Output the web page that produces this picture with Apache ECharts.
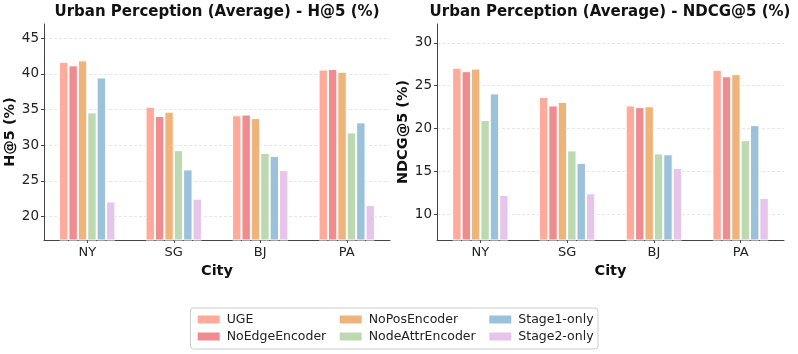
<!DOCTYPE html>
<html>
<head>
<meta charset="utf-8">
<script src="https://cdn.jsdelivr.net/npm/echarts@6/dist/echarts.min.js"></script>
<style>
html,body{margin:0;padding:0;background:#fff;}
#c{width:798px;height:354px;}
</style>
</head>
<body>
<div id="c"></div>
<script>
const cities = ['NY', 'SG', 'BJ', 'PA'];
const methods = ['UGE', 'NoEdgeEncoder', 'NoPosEncoder', 'NodeAttrEncoder', 'Stage1-only', 'Stage2-only'];
const colors = ['#FFAA9B', '#EF8C8F', '#EEB47A', '#BCD9B1', '#9BC1DB', '#E7C5EA'];

// H@5 (%) per method, in city order NY, SG, BJ, PA
const hitUGE = [41.7, 35.4, 34.2, 40.6];
const hitNoEdge = [41.2, 34.1, 34.3, 40.7];
const hitNoPos = [41.9, 34.7, 33.8, 40.3];
const hitNodeAttr = [34.6, 29.3, 28.9, 31.8];
const hitStage1 = [39.5, 26.6, 28.5, 33.2];
const hitStage2 = [22.1, 22.5, 26.5, 21.6];

// NDCG@5 (%) per method
const ndcgUGE = [27.1, 23.7, 22.7, 26.85];
const ndcgNoEdge = [26.7, 22.7, 22.5, 26.1];
const ndcgNoPos = [27.0, 23.1, 22.6, 26.35];
const ndcgNodeAttr = [21.0, 17.45, 17.1, 18.65];
const ndcgStage1 = [24.1, 16.0, 17.0, 20.4];
const ndcgStage2 = [12.25, 12.45, 15.4, 11.9];

const hitTicks = [20, 25, 30, 35, 40, 45];
const ndcgTicks = [10, 15, 20, 25, 30];

const hitData = [hitUGE, hitNoEdge, hitNoPos, hitNodeAttr, hitStage1, hitStage2];
const ndcgData = [ndcgUGE, ndcgNoEdge, ndcgNoPos, ndcgNodeAttr, ndcgStage1, ndcgStage2];

const FONT = 'DejaVu Sans';
const axisColor = '#444';

function xAxisCfg(gridIndex) {
  return {
    type: 'category', gridIndex, data: cities,
    name: 'City', nameLocation: 'middle', nameGap: 18,
    nameTextStyle: {fontFamily: FONT, fontWeight: 'bold', fontSize: 14.5, color: '#111'},
    axisLine: {lineStyle: {color: axisColor, width: 1}},
    axisTick: {show: true, alignWithLabel: true, length: 3, lineStyle: {color: axisColor}},
    axisLabel: {fontFamily: FONT, fontSize: 13, color: '#222', margin: 6},
    splitLine: {show: false}
  };
}
function yAxisCfg(gridIndex, name, min, max, ticks) {
  return {
    type: 'value', gridIndex, min, max,
    name, nameLocation: 'middle', nameGap: 26,
    nameTextStyle: {fontFamily: FONT, fontWeight: 'bold', fontSize: 14.5, color: '#111'},
    axisLine: {show: true, lineStyle: {color: axisColor, width: 1}},
    axisTick: {show: true, length: 3, customValues: ticks, lineStyle: {color: axisColor}},
    axisLabel: {fontFamily: FONT, fontSize: 13.5, color: '#222', margin: 5, customValues: ticks},
    splitLine: {show: true, customValues: ticks, lineStyle: {color: '#e0e0e0', type: [3, 2], width: 0.8}}
  };
}

const series = [];
methods.forEach((m, i) => {
  series.push({
    type: 'bar', name: m, xAxisIndex: 0, yAxisIndex: 0, data: hitData[i],
    barWidth: 9.4, barGap: '0%',
    itemStyle: {color: colors[i], borderColor: '#fff', borderWidth: 1}
  });
});
methods.forEach((m, i) => {
  series.push({
    type: 'bar', name: m, xAxisIndex: 1, yAxisIndex: 1, data: ndcgData[i],
    barWidth: 9.4, barGap: '0%',
    itemStyle: {color: colors[i], borderColor: '#fff', borderWidth: 1}
  });
});

function legendCol(left, names) {
  return {
    orient: 'vertical', left, top: 313, padding: 0, itemGap: 4,
    itemWidth: 24, itemHeight: 10, icon: 'rect',
    data: names,
    textStyle: {fontFamily: FONT, fontSize: 12.5, color: '#222', padding: [0, 0, 0, 1]}
  };
}

const chart = echarts.init(document.getElementById('c'), null, {renderer: 'canvas'});
chart.setOption({
  animation: false,
  backgroundColor: '#fff',
  grid: [
    {left: 44, right: 408, top: 24, bottom: 114},
    {left: 437, right: 14, top: 24, bottom: 114}
  ],
  xAxis: [xAxisCfg(0), xAxisCfg(1)],
  yAxis: [
    yAxisCfg(0, 'H@5 (%)', 16.7, 47, hitTicks),
    yAxisCfg(1, 'NDCG@5 (%)', 7.0, 32.2, ndcgTicks)
  ],
  legend: [
    legendCol(195.7, ['UGE', 'NoEdgeEncoder']),
    legendCol(337.7, ['NoPosEncoder', 'NodeAttrEncoder']),
    legendCol(487.3, ['Stage1-only', 'Stage2-only'])
  ],
  graphic: [
    {type: 'text', x: 217, y: 12, style: {text: 'Urban Perception (Average) - H@5 (%)', font: 'bold 15px "DejaVu Sans"', fill: '#111', align: 'center', verticalAlign: 'middle'}},
    {type: 'text', x: 610, y: 12, style: {text: 'Urban Perception (Average) - NDCG@5 (%)', font: 'bold 15px "DejaVu Sans"', fill: '#111', align: 'center', verticalAlign: 'middle'}},
    {type: 'rect', shape: {x: 190.5, y: 308, width: 407.5, height: 41, r: 3}, style: {fill: 'rgba(255,255,255,0)', stroke: '#cccccc', lineWidth: 1}, z: -1}
  ],
  series
});
</script>
</body>
</html>
